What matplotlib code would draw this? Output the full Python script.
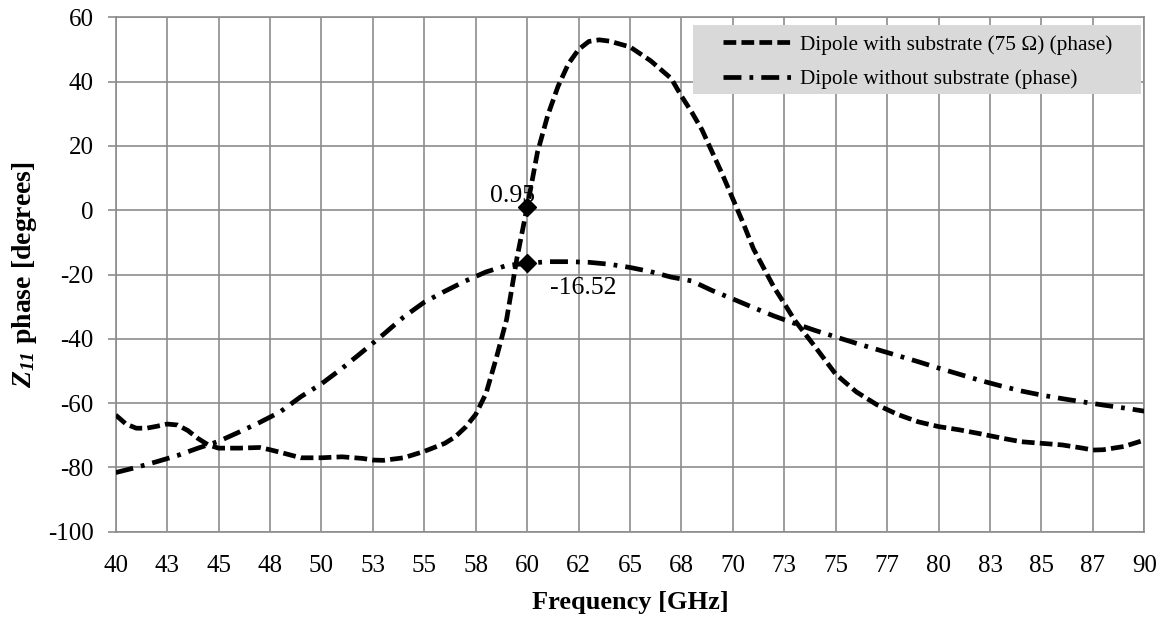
import numpy as np
import matplotlib
matplotlib.use('Agg')
import matplotlib.pyplot as plt
from matplotlib.patches import Rectangle

plt.rcParams['font.family'] = ['Liberation Serif', 'DejaVu Serif']
plt.rcParams['axes.unicode_minus'] = False
plt.rcParams['mathtext.fontset'] = 'custom'
plt.rcParams['mathtext.rm'] = 'Liberation Serif'
plt.rcParams['mathtext.it'] = 'Liberation Serif:italic'
plt.rcParams['mathtext.bf'] = 'Liberation Serif:bold'
plt.rcParams['mathtext.bfit'] = 'Liberation Serif:bold:italic'

# Dipole with substrate (75 ohm) - phase
freq_sub = [40, 40.5, 41, 41.5, 42, 42.5, 43, 43.5, 44, 44.5, 45, 46, 47, 47.5, 48, 49, 50,
            51, 52, 52.5, 53, 54, 55, 56, 56.5, 57, 57.5, 58, 58.5, 59, 59.5, 60, 60.5, 61,
            61.5, 62, 62.5, 63, 63.5, 64, 65, 66, 67, 67.5, 68, 68.5, 69, 69.5, 70, 70.5, 71,
            71.5, 72, 72.5, 73, 74, 75, 76, 77, 77.5, 78, 79, 80, 81, 82, 83, 84, 85, 86, 87,
            87.5, 88, 89, 90]
phase_sub = [-63.7, -66.5, -67.8, -67.8, -67.2, -66.5, -66.8, -68.5, -71, -73, -74, -74, -73.8,
             -74.5, -75.3, -77, -77, -76.7, -77.2, -77.7, -77.8, -77, -75, -72.5, -70.5, -67.5,
             -63.5, -57, -46, -34, -15, 0.95, 18, 29.5, 38.5, 45.5, 50, 52.5, 53, 52.6, 50.8,
             46.5, 41, 35.5, 30.5, 25, 18, 11, 3.5, -4, -12, -18, -24, -29, -34.2, -42.5, -51,
             -56.5, -60.5, -62, -63.5, -65.8, -67.3, -68.3, -69.5, -70.8, -72, -72.5, -73, -74,
             -74.6, -74.5, -73.5, -71.5]

# Dipole without substrate - phase
freq_nosub = list(range(40, 91))
phase_nosub = [-81.6, -80, -78.2, -76.3, -74, -71.9, -69, -66, -62.7, -58, -54, -49.2, -44,
               -38.7, -33.2, -28.6, -25.2, -22, -19.2, -17.2, -16.52, -16, -16, -16.2, -16.8,
               -17.8, -19.1, -20.8, -22, -25, -27.6, -30.3, -32.9, -35.2, -37.4, -39.4, -41.4,
               -43.3, -45.2, -47.1, -49.1, -51, -52.9, -54.6, -56.2, -57.5, -58.6, -59.6, -60.6,
               -61.5, -62.5]

tick_pos = np.arange(40, 90.1, 2.5)
tick_labels = ['40', '43', '45', '48', '50', '53', '55', '58', '60', '62', '65', '68', '70',
               '73', '75', '77', '80', '83', '85', '87', '90']

# highlighted points at 60 GHz
mark_x = [60, 60]
mark_y = [0.95, -16.52]

fig = plt.figure(figsize=(11.64, 6.19), dpi=100)
ax = fig.add_axes([0.0994, 0.141, 0.8837, 0.831])

ax.plot(freq_sub, phase_sub, color='black', lw=3.4, dashes=(2.7, 1.1),
        dash_capstyle='butt', label='Dipole with substrate (75 \u03a9) (phase)', zorder=3)
ax.plot(freq_nosub, phase_nosub, color='black', lw=3.4, dashes=(3.8, 1.7, 0.8, 1.7),
        dash_capstyle='butt', label='Dipole without substrate (phase)', zorder=3)
ax.plot(mark_x, mark_y, linestyle='none', marker='D', ms=9, color='black', zorder=4)

ax.annotate('0.95', (mark_x[0], mark_y[0]), xytext=(-10.6, 8), textcoords='offset points',
            ha='center', va='center', fontsize=18.5)
ax.annotate('-16.52', (mark_x[1], mark_y[1]), xytext=(40.5, -18), textcoords='offset points',
            ha='center', va='center', fontsize=18.5)

ax.set_xlim(40, 90)
ax.set_ylim(-100, 60)
ax.set_xticks(tick_pos)
ax.set_xticklabels(tick_labels)
ax.set_yticks(np.arange(-100, 61, 20))
ax.tick_params(axis='x', length=0, labelsize=18, pad=17)
ax.tick_params(axis='y', length=6, width=1.2, color='#8c8c8c', labelsize=18, pad=10)
ax.grid(True, color='#8c8c8c', lw=1.2)
ax.set_axisbelow(True)
for s in ax.spines.values():
    s.set_color('#8c8c8c')
    s.set_linewidth(1.2)

ax.set_xlabel('Frequency [GHz]', fontsize=19, fontweight='bold', labelpad=10)
ax.set_ylabel(r'$\mathbfit{Z}_{\mathbfit{11}}$ phase [degrees]', fontsize=20,
              fontweight='bold', labelpad=6)

# grey legend box
ax.add_patch(Rectangle((0.561, 0.851), 0.436, 0.134, transform=ax.transAxes,
                       facecolor='#d9d9d9', edgecolor='none', zorder=5))
leg = ax.legend(loc='center left', bbox_to_anchor=(0.590, 0.913), borderaxespad=0,
                borderpad=0, fontsize=15.3, frameon=False, handlelength=3.25,
                handletextpad=0.4, labelspacing=0.7)
leg.set_zorder(6)

fig.savefig('out.png', dpi=100)
